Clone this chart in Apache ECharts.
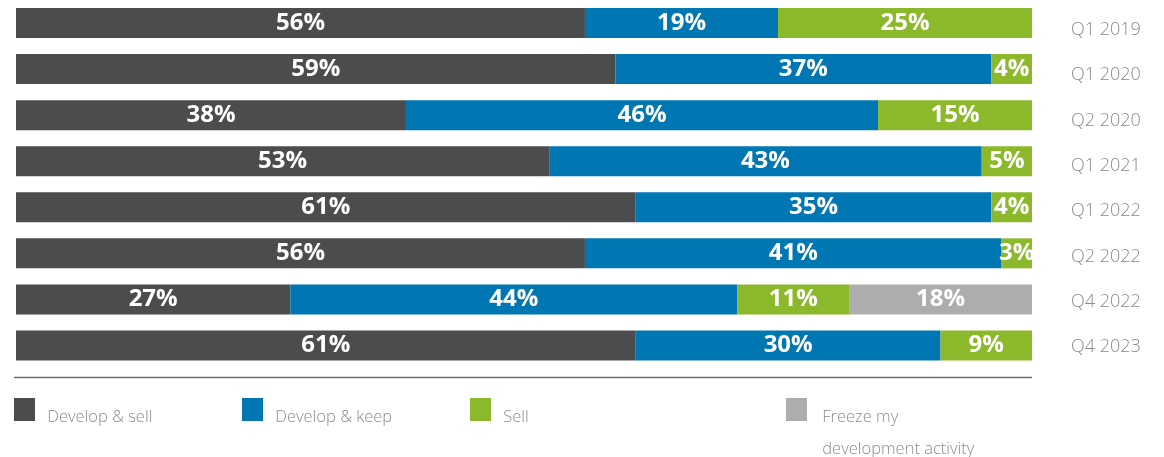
<!DOCTYPE html>
<html>
<head>
<meta charset="utf-8">
<script src="https://cdn.jsdelivr.net/npm/echarts@6/dist/echarts.min.js"></script>
<style>html,body{margin:0;padding:0;background:#fff}#c{width:1164px;height:457px}</style>
</head>
<body>
<div id="c"></div>
<script>
const categories = ['Q1 2019','Q1 2020','Q2 2020','Q1 2021','Q1 2022','Q2 2022','Q4 2022','Q4 2023'];
const developSell = [56,59,38,53,61,56,27,61];
const developKeep = [19,37,46,43,35,41,44,30];
const sell = [25,4,15,5,4,3,11,9];
const freeze = [null,null,null,null,null,null,18,null];
const seriesNames = ['Develop & sell','Develop & keep','Sell','Freeze my development activity'];
const colors = ['#4b4c4e','#0076b3','#8cb82b','#adadad'];

const raw = [developSell, developKeep, sell, freeze];
const totals = categories.map((c,i)=>raw.reduce((s,a)=>s+(a[i]||0),0));

const chart = echarts.init(document.getElementById('c'));
const labelFont = {fontFamily:'"Open Sans", sans-serif'};

const series = raw.map((arr,k)=>({
  name: seriesNames[k],
  type: 'bar',
  stack: 'all',
  barWidth: 30,
  itemStyle: {color: colors[k]},
  data: arr.map((v,i)=> v==null ? null : {value: v/totals[i]*100, raw: v}),
  label: {
    show: true, position: 'inside', color: '#fff', fontWeight: 'bold', fontSize: 24,
    fontFamily: '"Open Sans", sans-serif',
    formatter: p => p.data ? p.data.raw + '%' : ''
  }
}));

const legendX = [14, 242, 470, 786];
const legends = seriesNames.map((n,k)=>({
  data: [{name: n, icon: 'rect'}],
  left: legendX[k], top: k===3 ? 361.5 : 393.5,
  padding: 0,
  itemWidth: 21, itemHeight: 23, itemGap: 0,
  selectedMode: false,
  formatter: k===3 ? '\n{s| }{t|Freeze my}\n{s| }{t|development activity}' : '{s| }{t|' + n + '}',
  textStyle: Object.assign({color:'#8c8c8c', fontSize: 16.5, fontWeight: 300, lineHeight: 32,
    padding: [0,0,0,k===3 ? 10 : 7],
    rich: {
      s: {fontSize: 1, lineHeight: 32},
      t: Object.assign({color:'#8c8c8c', fontSize: 16.5, fontWeight: 300, lineHeight: 29, verticalAlign: 'bottom'}, labelFont)
    }
  }, labelFont)
}));

chart.setOption({
  animation: false,
  legend: legends,
  grid: [
    {left: 16, right: 132, top: -2.2, height: 370.7},
    {left: 16, right: 132, top: 7.4, height: 362.3}
  ],
  xAxis: [
    {type:'value', min:0, max:100, show:false, gridIndex:0},
    {type:'value', min:0, max:100, show:false, gridIndex:1}
  ],
  yAxis: [
    {type:'category', data: categories, inverse:true, show:false, gridIndex:0},
    {type:'category', data: categories, inverse:true, gridIndex:1, position:'right',
     axisLine:{show:false}, axisTick:{show:false}, splitLine:{show:false},
     axisLabel: Object.assign({color:'#8a8a8a', fontSize:18, fontWeight:300, margin:39, align:'left'}, labelFont)}
  ],
  graphic: [{
    type:'line', shape:{x1:14, y1:377.5, x2:1032, y2:377.5},
    style:{stroke:'#6d6d6d', lineWidth:1.5}
  }],
  series: series
});
</script>
</body>
</html>
